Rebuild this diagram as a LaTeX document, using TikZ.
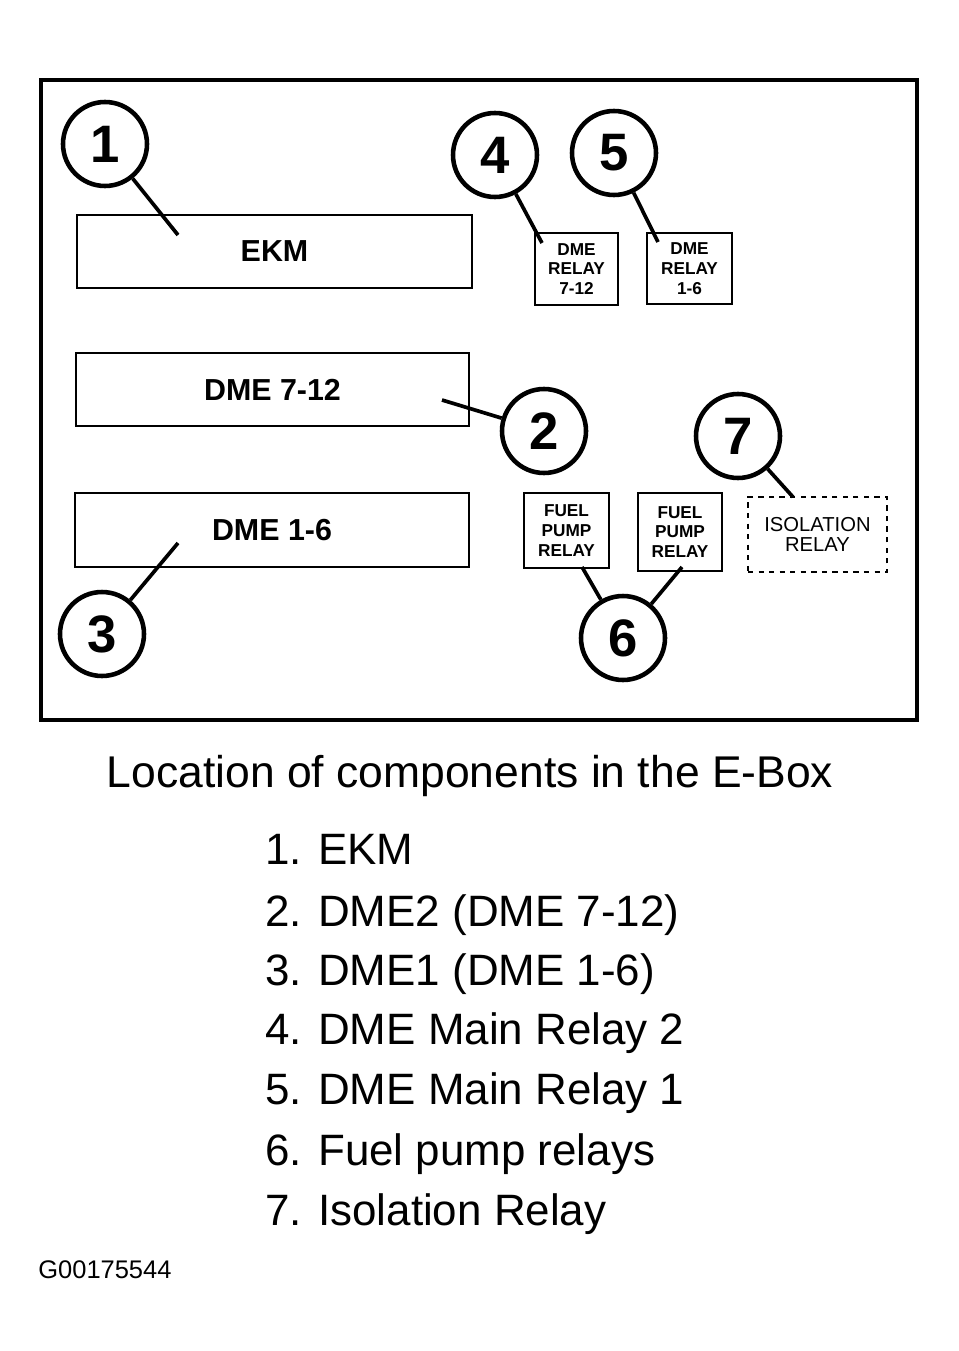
\documentclass[tikz,border=0pt]{standalone}
\usepackage{fontspec}
\setmainfont{Liberation Sans}

\begin{document}
\begin{tikzpicture}[x=0.02cm,y=-0.02cm,
  callout/.style={draw,circle,line width=2.6pt,minimum size=1.68cm,inner sep=0pt,
    font=\fontsize{30}{30}\selectfont\bfseries},
  module/.style={draw,rectangle,line width=1pt,inner sep=0pt,
    font=\fontsize{17.3}{17.3}\selectfont\bfseries},
  relay/.style={draw,rectangle,line width=1pt,inner sep=0pt,align=center,
    font=\fontsize{9.8}{11.2}\selectfont\bfseries},
  leader/.style={line width=2.1pt},
  item/.style={anchor=base west,inner sep=0pt,font=\fontsize{25}{25}\selectfont}]
  \useasboundingbox (0,0) rectangle (959,1351);
  % --- E-Box frame, pixel coordinates (y grows downwards) ---
  \draw[line width=2.6pt] (41,80) rectangle (917,720);
  % --- modules, left column ---
  \node[module,minimum width=7.9cm,minimum height=1.46cm] (ekm) at (274.5,251.5) {EKM};
  \node[module,minimum width=7.86cm,minimum height=1.46cm] (dmeb) at (272.5,389.5) {DME 7-12};
  \node[module,minimum width=7.88cm,minimum height=1.48cm] (dmea) at (272,530) {DME 1-6};
  % --- relays, right side ---
  \node[relay,minimum width=1.66cm,minimum height=1.44cm] (mainb) at (576.5,269) {DME\\RELAY\\7-12};
  \node[relay,minimum width=1.7cm,minimum height=1.42cm] (maina) at (689.5,268.5) {DME\\RELAY\\1-6};
  \node[relay,minimum width=1.7cm,minimum height=1.5cm] (fuela) at (566.5,530.5) {FUEL\\PUMP\\RELAY};
  \node[relay,minimum width=1.68cm,minimum height=1.56cm] (fuelb) at (680,532) {FUEL\\PUMP\\RELAY};
  \node[relay,dashed,line width=1.5pt,minimum width=2.78cm,minimum height=1.5cm,
    font=\fontsize{11.5}{11.3}\selectfont] (iso) at (817.5,534.5) {ISOLATION\\RELAY};
  % --- numbered callouts ---
  \node[callout] (c1) at (105,144) {1};
  \node[callout] (c2) at (544,431) {2};
  \node[callout] (c3) at (102,634) {3};
  \node[callout] (c4) at (495,155) {4};
  \node[callout] (c5) at (614,153) {5};
  \node[callout] (c6) at (623,638) {6};
  \node[callout] (c7) at (738,436) {7};
  % leader ends inside the parts
  \coordinate (e1) at (178,235);
  \coordinate (e2) at (442,400);
  \coordinate (e3) at (178,543);
  \coordinate (e4) at (542,243);
  \coordinate (e5) at (658,242);
  \coordinate (e6a) at (582,567);
  \coordinate (e6b) at (682,567);
  \coordinate (e7) at (793,497);
  \draw[leader] (c1) -- (e1);
  \draw[leader] (c2) -- (e2);
  \draw[leader] (c3) -- (e3);
  \draw[leader] (c4) -- (e4);
  \draw[leader] (c5) -- (e5);
  \draw[leader] (c6) -- (e6a);
  \draw[leader] (c6) -- (e6b);
  \draw[leader] (c7) -- (e7);
  % --- caption and legend ---
  \node[anchor=base,inner sep=0pt,font=\fontsize{25.3}{25.3}\selectfont] (title) at (470,787)
    {Location of components in the E-Box};
  \node[item] (l1) at (265,864) {1. EKM};
  \node[item] (l2) at (265,926) {2. DME2 (DME 7-12)};
  \node[item] (l3) at (265,985) {3. DME1 (DME 1-6)};
  \node[item] (l4) at (265,1044) {4. DME Main Relay 2};
  \node[item] (l5) at (265,1104) {5. DME Main Relay 1};
  \node[item] (l6) at (265,1165) {6. Fuel pump relays};
  \node[item] (l7) at (265,1225) {7. Isolation Relay};
  \node[anchor=base west,inner sep=0pt,font=\fontsize{14.5}{14.5}\selectfont] (code) at (38,1278) {G00175544};
\end{tikzpicture}
\end{document}
